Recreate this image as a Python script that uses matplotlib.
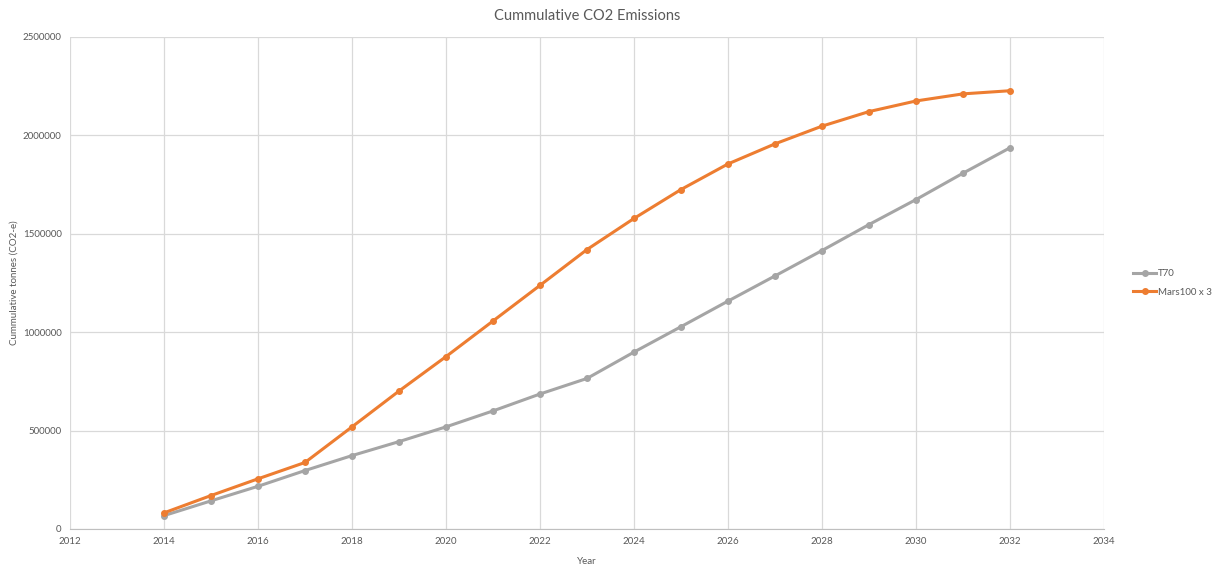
import matplotlib
matplotlib.use("Agg")
import matplotlib.pyplot as plt

plt.rcParams["font.family"] = ["Lato", "DejaVu Sans"]

years = list(range(2014, 2033))
t70 = [68000, 143000, 217000, 297000, 373000, 444000, 519000, 600000, 686000,
       765000, 899000, 1028000, 1158000, 1286000, 1415000, 1547000, 1674000,
       1808000, 1937000]
mars100 = [82000, 170000, 255000, 338000, 519000, 701000, 876000, 1057000,
           1238000, 1420000, 1578000, 1725000, 1855000, 1957000, 2047000,
           2121000, 2175000, 2211000, 2227000]

fig = plt.figure(figsize=(12.15, 5.65), dpi=100)
ax = fig.add_axes([70 / 1215, 1 - 529 / 565, 1034 / 1215, 492 / 565])

ax.plot(years, t70, color="#A5A5A5", lw=2.2, marker="o", ms=4, label="T70")
ax.plot(years, mars100, color="#ED7D31", lw=2.2, marker="o", ms=4, label="Mars100 x 3")

ax.set_xlim(2012, 2034)
ax.set_ylim(0, 2500000)
ax.set_xticks(range(2012, 2035, 2))
ax.set_yticks(range(0, 2500001, 500000))
ax.set_yticklabels([str(v) for v in range(0, 2500001, 500000)])
ax.grid(True, color="#D9D9D9", lw=0.9)
ax.set_axisbelow(True)
for side in ["top", "right", "left"]:
    ax.spines[side].set_visible(False)
ax.spines["bottom"].set_color("#BFBFBF")
ax.tick_params(length=0, labelsize=7, colors="#595959", pad=6)

ax.set_title("Cummulative CO2 Emissions", fontsize=10.5, color="#595959", pad=12)
ax.set_xlabel("Year", fontsize=7, color="#595959", labelpad=8)
ax.set_ylabel("Cummulative tonnes (CO2-e)", fontsize=7, color="#595959", labelpad=3)

ax.legend(loc="center left", bbox_to_anchor=(1.02, 0.5), frameon=False,
          fontsize=7, labelcolor="#595959", handlelength=2.3, handletextpad=0.2,
          labelspacing=1.0)

fig.savefig("out.png", dpi=100)
